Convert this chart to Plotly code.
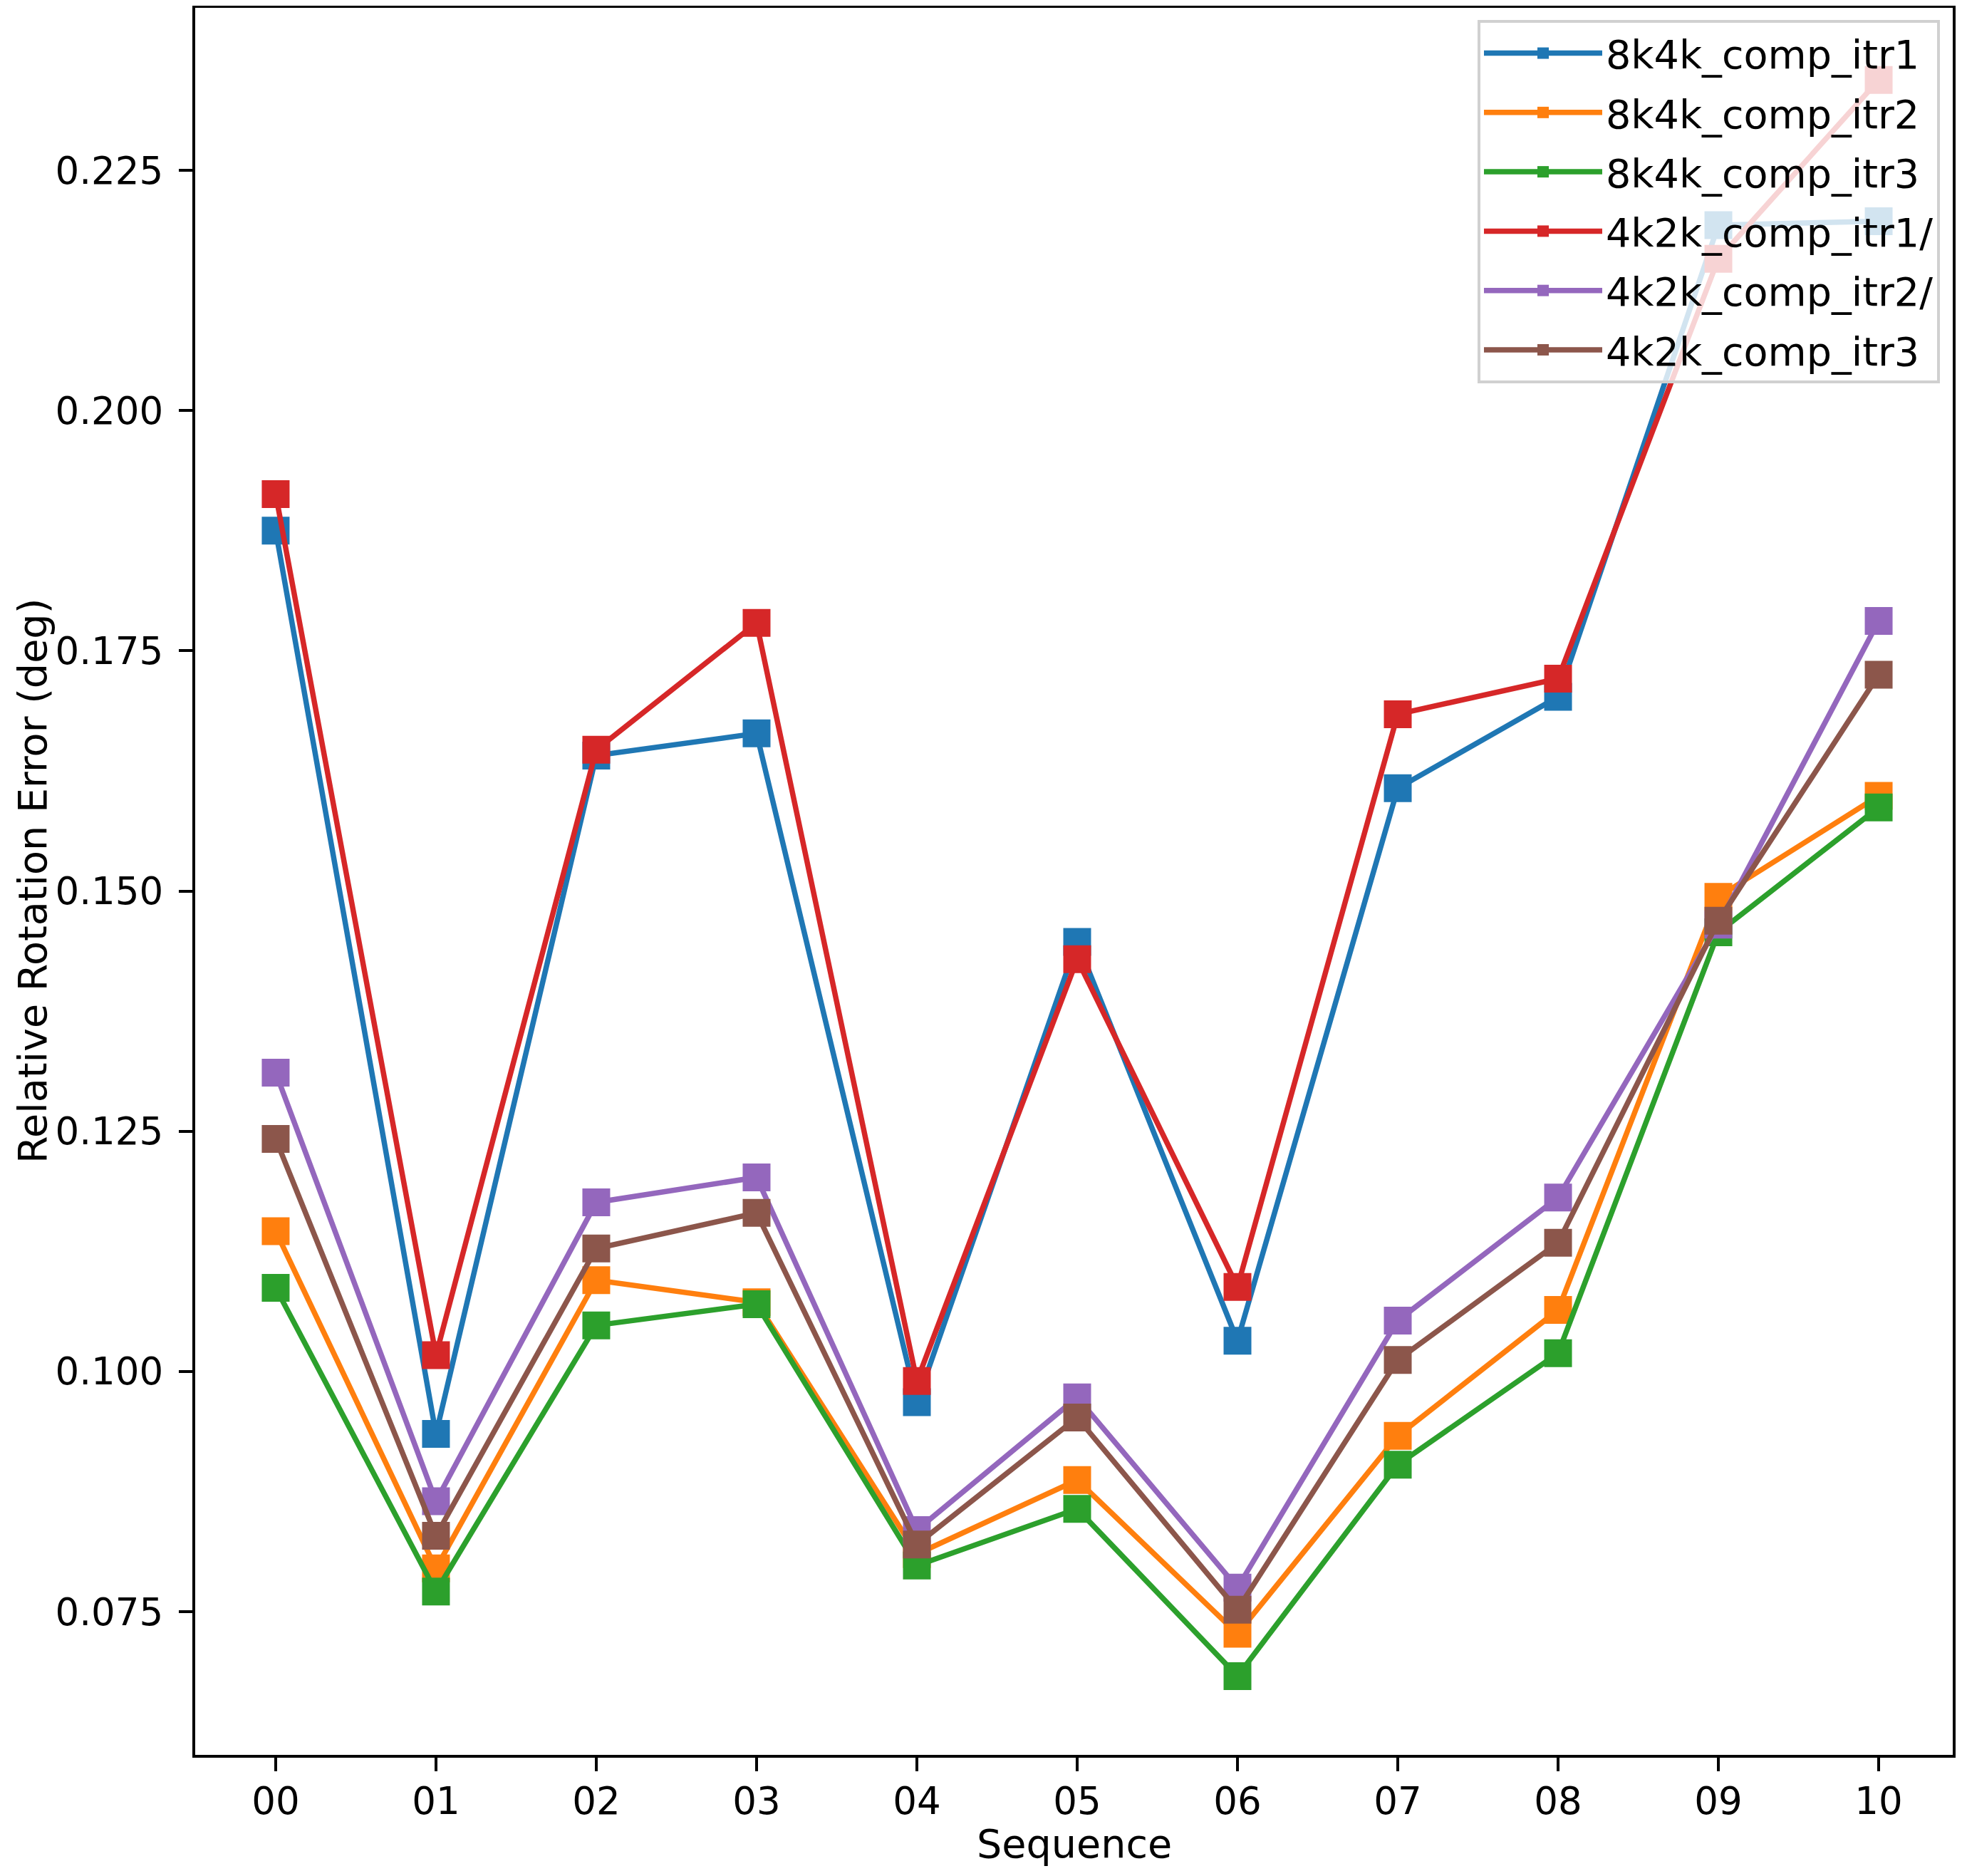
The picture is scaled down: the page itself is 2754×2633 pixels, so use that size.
import plotly.graph_objects as go

# sequences on the x axis
sequences = ["00", "01", "02", "03", "04", "05", "06", "07", "08", "09", "10"]

# relative rotation error (deg) per run
err_8k4k_itr1 = [0.1875, 0.0935, 0.1641, 0.1664, 0.0968, 0.1447, 0.1032, 0.1607, 0.1702, 0.2193, 0.2197]
err_8k4k_itr2 = [0.1146, 0.0795, 0.1095, 0.1072, 0.0810, 0.0887, 0.0727, 0.0933, 0.1064, 0.1494, 0.1599]
err_8k4k_itr3 = [0.1087, 0.0771, 0.1048, 0.1070, 0.0798, 0.0857, 0.0683, 0.0903, 0.1019, 0.1457, 0.1587]
err_4k2k_itr1 = [0.1913, 0.1017, 0.1647, 0.1779, 0.0990, 0.1429, 0.1088, 0.1684, 0.1721, 0.2158, 0.2344]
err_4k2k_itr2 = [0.1311, 0.0865, 0.1176, 0.1202, 0.0835, 0.0973, 0.0775, 0.1053, 0.1181, 0.1465, 0.1781]
err_4k2k_itr3 = [0.1242, 0.0829, 0.1128, 0.1165, 0.0820, 0.0952, 0.0752, 0.1012, 0.1134, 0.1469, 0.1725]

series = [
    ("8k4k_comp_itr1", err_8k4k_itr1, "#1f77b4"),
    ("8k4k_comp_itr2", err_8k4k_itr2, "#ff7f0e"),
    ("8k4k_comp_itr3", err_8k4k_itr3, "#2ca02c"),
    ("4k2k_comp_itr1/", err_4k2k_itr1, "#d62728"),
    ("4k2k_comp_itr2/", err_4k2k_itr2, "#9467bd"),
    ("4k2k_comp_itr3", err_4k2k_itr3, "#8c564b"),
]

y_ticks = [0.075, 0.100, 0.125, 0.150, 0.175, 0.200, 0.225]

fig = go.Figure()

for nome, valores, cor in series:
    fig.add_trace(
        go.Scatter(
            x=sequences,
            y=valores,
            name=nome,
            legendgroup=nome,  # um grupo por linha, para espaçar a legenda
            mode="lines+markers",
            line=dict(color=cor, width=7.5),
            marker=dict(symbol="square", size=39, color=cor),
        )
    )

# eixos no estilo matplotlib
eixo = dict(
    showline=True,
    linecolor="black",
    linewidth=4.4,
    mirror=True,
    showgrid=False,
    zeroline=False,
    automargin=False,
    ticks="outside",
    ticklen=19,
    tickwidth=4.4,
    tickcolor="black",
    tickfont=dict(size=53, color="black"),
)

# a página tem ~8px de margem no body: o figure fica menor para não transbordar
fig.update_layout(
    width=2738,
    height=2617,
    margin=dict(l=266, r=5, t=3, b=162),
    paper_bgcolor="white",
    plot_bgcolor="white",
    font=dict(family="DejaVu Sans", size=55.6, color="black"),
    xaxis=dict(
        eixo,
        type="category",
        range=[-0.502, 10.462],
        ticklabelstandoff=-4,
    ),
    yaxis=dict(
        eixo,
        range=[0.0601, 0.24191],
        tickvals=y_ticks,
        tickformat=".3f",
        ticklabelstandoff=11,
    ),
    legend=dict(
        x=0.9927,
        y=0.9931,
        xanchor="right",
        yanchor="top",
        bgcolor="rgba(255,255,255,0.8)",
        bordercolor="#d0d0d0",
        borderwidth=4,
        font=dict(size=55.6),
        itemwidth=166,
        tracegroupgap=8,
    ),
    showlegend=True,
)

# títulos dos eixos como anotações, para ficarem mais perto da borda
fig.add_annotation(
    text="Sequence",
    xref="paper", yref="paper",
    x=0.5, y=-0.0506,
    xanchor="center", yanchor="middle",
    showarrow=False,
    font=dict(size=55.6),
)
fig.add_annotation(
    text="Relative Rotation Error (deg)",
    xref="paper", yref="paper",
    x=-0.0928, y=0.5,
    xanchor="center", yanchor="middle",
    textangle=-90,
    showarrow=False,
    font=dict(size=55.6),
)

fig.write_html("out.html")
